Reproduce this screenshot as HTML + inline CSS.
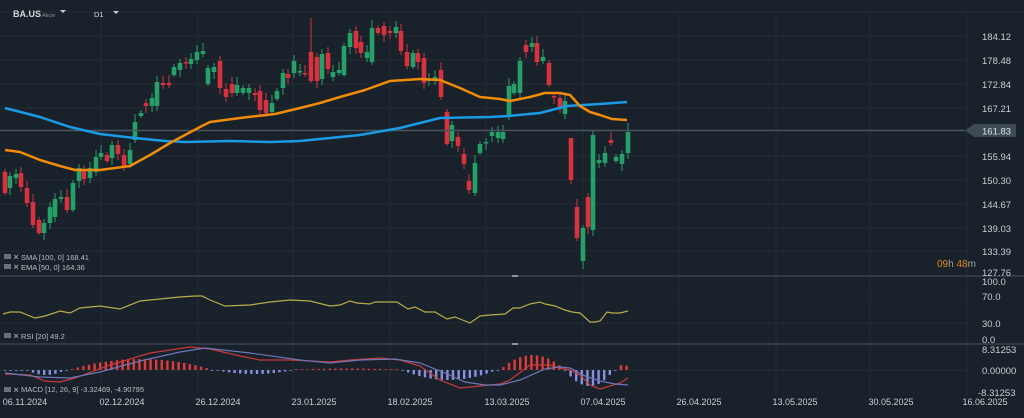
<!DOCTYPE html>
<html><head><meta charset="utf-8"><style>
html,body{margin:0;padding:0;background:#19212a;}
body{width:1024px;height:413px;overflow:hidden;font-family:"Liberation Sans",sans-serif;}
svg text{font-family:"Liberation Sans",sans-serif;}
</style></head><body>
<svg id="s" width="1024" height="413" xmlns="http://www.w3.org/2000/svg">
<rect width="1024" height="413" fill="#19212a"/>
<g stroke="#222b34" stroke-width="1">
<line x1="0" y1="36" x2="970" y2="36"/><line x1="0" y1="60" x2="970" y2="60"/><line x1="0" y1="84" x2="970" y2="84"/><line x1="0" y1="108" x2="970" y2="108"/><line x1="0" y1="156" x2="970" y2="156"/><line x1="0" y1="180" x2="970" y2="180"/><line x1="0" y1="204" x2="970" y2="204"/><line x1="0" y1="228" x2="970" y2="228"/><line x1="0" y1="251" x2="970" y2="251"/>
<line x1="0" y1="296" x2="970" y2="296"/><line x1="0" y1="323" x2="970" y2="323"/><line x1="0" y1="370" x2="970" y2="370"/>
<line x1="101" y1="12" x2="101" y2="395"/><line x1="198" y1="12" x2="198" y2="395"/><line x1="293" y1="12" x2="293" y2="395"/><line x1="390" y1="12" x2="390" y2="395"/><line x1="486" y1="12" x2="486" y2="395"/><line x1="583" y1="12" x2="583" y2="395"/><line x1="679" y1="12" x2="679" y2="395"/><line x1="776" y1="12" x2="776" y2="395"/><line x1="870" y1="12" x2="870" y2="395"/><line x1="967" y1="12" x2="967" y2="395"/>
<line x1="0" y1="12" x2="1024" y2="12"/>
</g>
<line x1="0" y1="276" x2="1024" y2="276" stroke="#3a444e" stroke-width="1.5"/>
<line x1="0" y1="344" x2="1024" y2="344" stroke="#3a444e" stroke-width="1.5"/>
<rect x="512" y="275" width="6" height="2" fill="#8a949e"/>
<rect x="512" y="343" width="6" height="2" fill="#8a949e"/>
<g id="cd"></g>
<line x1="0" y1="130.5" x2="965" y2="130.5" stroke="#4a555f" stroke-width="1.5"/>
<polyline fill="none" stroke="#1a9be6" stroke-width="2.5" stroke-linejoin="round" points="5,108 40,117 70,127 100,134 135,138 165,141 185,142 230,141 270,142 300,141 320,139 360,135 400,128 440,118 490,117 508,116 540,113 567,106 600,104 627,102"/>
<polyline fill="none" stroke="#f08c0a" stroke-width="2.5" stroke-linejoin="round" points="5,150 20,152 40,160 60,166 75,170 100,170 130,166 150,155 170,143 200,127 210,122 240,118 275,114 300,108 320,103 340,97 365,90 390,81 420,79 440,80 460,88 480,97 500,99 510,101 530,97 545,93 560,93 570,95 580,106 590,112 600,115 612,119 627,120"/>
<polyline fill="none" stroke="#b8ac4a" stroke-width="1.2" points="3,314 10,312 20,312 35,318 45,316 60,311 70,313 80,308 100,306 120,309 140,301 160,299 180,297 195,296 202,296 210,300 225,306 250,305 270,302 290,300 310,301 330,306 340,305 350,301 357,303 370,304 375,302 397,302 408,309 415,307 425,312 435,312 447,319 455,317 470,323 480,316 490,315 505,314 513,308 520,308 530,304 540,302 545,304 555,306 565,310 572,312 580,313 590,322 595,322 600,321 607,312 612,313 620,313 628,311"/>
<g id="hist"></g>
<polyline fill="none" stroke="#c83a3a" stroke-width="1.2" points="5,374 30,375 45,381 60,382 75,378 110,365 150,353 190,347 210,349 240,356 260,360 290,360 330,362 350,360 380,358 400,360 420,366 440,380 460,388 480,386 500,384 510,380 530,365 550,365 560,368 570,370 580,375 590,385 600,389 610,386 620,383 628,378"/>
<polyline fill="none" stroke="#6a78b8" stroke-width="1.2" points="5,373 40,377 70,378 100,372 140,361 180,352 205,348 250,353 300,360 330,363 360,360 395,359 420,363 445,373 465,382 485,385 500,385 520,380 545,369 560,367 570,368 585,376 600,381 615,384 628,385"/>
<g fill="#c9ced3" font-size="9.5">
<text x="982" y="40">184.12</text><text x="982" y="64">178.48</text><text x="982" y="88">172.84</text><text x="982" y="112">167.21</text><text x="982" y="160">155.94</text><text x="982" y="184">150.30</text><text x="982" y="208">144.67</text><text x="982" y="232">139.03</text><text x="982" y="255">133.39</text><text x="982" y="276">127.76</text>
<text x="982" y="285">100.0</text><text x="982" y="300">70.0</text><text x="982" y="327">30.0</text><text x="982" y="343">0.0</text>
<text x="982" y="353">8.31253</text><text x="982" y="374">0.00000</text><text x="978" y="396">-8.31253</text>
</g>
<polygon points="965,130.5 974,124 1016,124 1016,137 974,137" fill="#3e4a55"/>
<text x="982" y="134.5" fill="#dde2e6" font-size="9.5">161.83</text>
<text x="937" y="267" font-size="10" fill="#e08a14">09<tspan fill="#9aa3ab">h</tspan> 48<tspan fill="#9aa3ab">m</tspan></text>
<g fill="#c9ced3" font-size="9" text-anchor="middle">
<text x="25" y="405">06.11.2024</text><text x="122" y="405">02.12.2024</text><text x="218" y="405">26.12.2024</text><text x="314" y="405">23.01.2025</text><text x="410" y="405">18.02.2025</text><text x="507" y="405">13.03.2025</text><text x="603" y="405">07.04.2025</text><text x="699" y="405">26.04.2025</text><text x="795" y="405">13.05.2025</text><text x="891" y="405">30.05.2025</text><text x="985" y="405">16.06.2025</text>
</g>
<text x="13" y="17" fill="#d5dade" font-size="9" font-weight="bold">BA.US</text>
<text x="42" y="17" fill="#8a949e" font-size="5.5">Akcie</text>
<polygon points="60,10 66,10 63,13" fill="#c9ced3"/>
<text x="94" y="17" fill="#d5dade" font-size="7.5">D1</text>
<polygon points="113,11 119,11 116,14" fill="#c9ced3"/>
<g fill="#b8bec4" font-size="7.5">
<rect x="4" y="254" width="7" height="5" fill="#6a737c"/><text x="13" y="259.5">✕</text><text x="21" y="260">SMA [100, 0] 168.41</text>
<rect x="4" y="264" width="7" height="5" fill="#6a737c"/><text x="13" y="269.5">✕</text><text x="21" y="270">EMA [50, 0] 164.36</text>
<rect x="4" y="333" width="7" height="5" fill="#6a737c"/><text x="13" y="338.5">✕</text><text x="21" y="339">RSI [20] 49.2</text>
<rect x="4" y="387" width="7" height="5" fill="#6a737c"/><text x="13" y="392.5">✕</text><text x="21" y="392">MACD [12, 26, 9] -3.32469, -4.90795</text>
</g>
</svg>
<script>
var C=[[5,172,193,'r'],[10,176,188,'g'],[16,174,178,'g'],[21,173,187,'r'],[27,188,203,'r'],[33,202,225,'r'],[39,220,233,'r'],[44,223,233,'g'],[50,207,223,'g'],[55,199,217,'g'],[61,197,199,'g'],[67,197,210,'r'],[73,183,210,'g'],[79,168,181,'g'],[84,170,179,'r'],[90,168,178,'g'],[96,157,172,'g'],[101,153,157,'g'],[107,155,161,'r'],[112,145,158,'g'],[118,145,154,'r'],[124,155,166,'r'],[130,150,164,'g'],[135,122,140,'g'],[141,113,116,'g'],[146,103,106,'r'],[152,98,106,'g'],[157,82,106,'g'],[163,83,85,'r'],[169,83,85,'r'],[174,67,75,'g'],[180,63,70,'g'],[186,62,63,'r'],[191,59,64,'g'],[197,52,60,'g'],[203,51,54,'g'],[208,68,84,'g'],[214,67,72,'g'],[220,61,88,'r'],[226,89,97,'r'],[232,84,93,'r'],[237,85,93,'g'],[243,88,93,'g'],[249,88,93,'g'],[255,93,95,'r'],[260,91,110,'r'],[266,100,113,'r'],[272,103,112,'g'],[277,91,99,'g'],[283,73,88,'g'],[288,74,78,'r'],[294,61,73,'g'],[300,71,72,'g'],[305,73,74,'r'],[311,52,81,'r'],[317,57,81,'r'],[322,54,79,'g'],[328,53,69,'r'],[333,72,77,'g'],[339,70,73,'g'],[344,46,75,'g'],[350,33,47,'g'],[356,31,48,'r'],[361,42,53,'r'],[367,52,58,'g'],[372,28,62,'g'],[378,28,33,'r'],[384,26,35,'r'],[390,31,33,'r'],[396,27,33,'g'],[401,31,51,'r'],[407,52,66,'r'],[413,53,67,'g'],[418,53,62,'r'],[424,58,83,'r'],[429,79,81,'g'],[435,77,81,'g'],[441,70,97,'r'],[447,112,144,'r'],[452,125,141,'g'],[458,137,146,'r'],[464,154,164,'r'],[469,181,190,'r'],[475,163,193,'g'],[480,144,153,'g'],[486,142,143,'g'],[492,132,136,'g'],[498,132,138,'g'],[503,132,139,'g'],[509,86,117,'g'],[514,84,93,'g'],[520,61,93,'g'],[526,45,52,'r'],[532,43,47,'g'],[537,43,62,'r'],[543,57,61,'g'],[549,63,85,'r'],[554,96,97,'r'],[560,98,107,'r'],[565,101,114,'g'],[571,138,180,'r'],[577,207,238,'r'],[583,228,261,'g'],[588,197,227,'r'],[593,135,230,'g'],[599,160,163,'g'],[605,153,163,'g'],[611,140,143,'r'],[616,157,161,'g'],[622,154,164,'g'],[628,132,153,'g']];
var h='';
C.forEach(function(c,i){var col=c[3]=='g'?'#26a069':'#d8323f';var t=c[1],b=c[2];var wt=t-(3+(i*7)%6),wb=b+(2+(i*5)%6);
if(c[0]==583)wb=269;if(c[0]==628)wt=123;if(c[0]==311)wt=18;if(c[0]==571)wt=t;
h+='<line x1="'+c[0]+'" y1="'+wt+'" x2="'+c[0]+'" y2="'+wb+'" stroke="'+col+'" stroke-width="1"/>';
h+='<rect x="'+(c[0]-2.3)+'" y="'+t+'" width="4.6" height="'+Math.max(1.5,b-t)+'" fill="'+col+'"/>';});
document.getElementById('cd').innerHTML=h;
function hv(x){
 var segs=[[3,30,0.5],[30,62,5],[72,210,-11],[218,290,4],[294,400,-1.5],[405,493,10],[503,562,-15],[568,611,16],[616,630,-5]];
 var v=0;
 segs.forEach(function(s){if(x>=s[0]&&x<=s[1]){var m=(s[0]+s[1])/2,w=(s[1]-s[0])/2;v=s[2]*(1-Math.pow((x-m)/(w+3),2));}});
 return v;}
var g='';
for(var x=5;x<=628;x+=5.6){var v=hv(x);if(Math.abs(v)<0.8)v=v<0?-0.8:0.8;var col=v<0?'#e03a3a':'#8a90e0';
 var y=v<0?370+v:370;g+='<rect x="'+(x-1.2)+'" y="'+y+'" width="2.4" height="'+Math.abs(v)+'" fill="'+col+'"/>';}
document.getElementById('hist').innerHTML=g;
</script>
</body></html>
